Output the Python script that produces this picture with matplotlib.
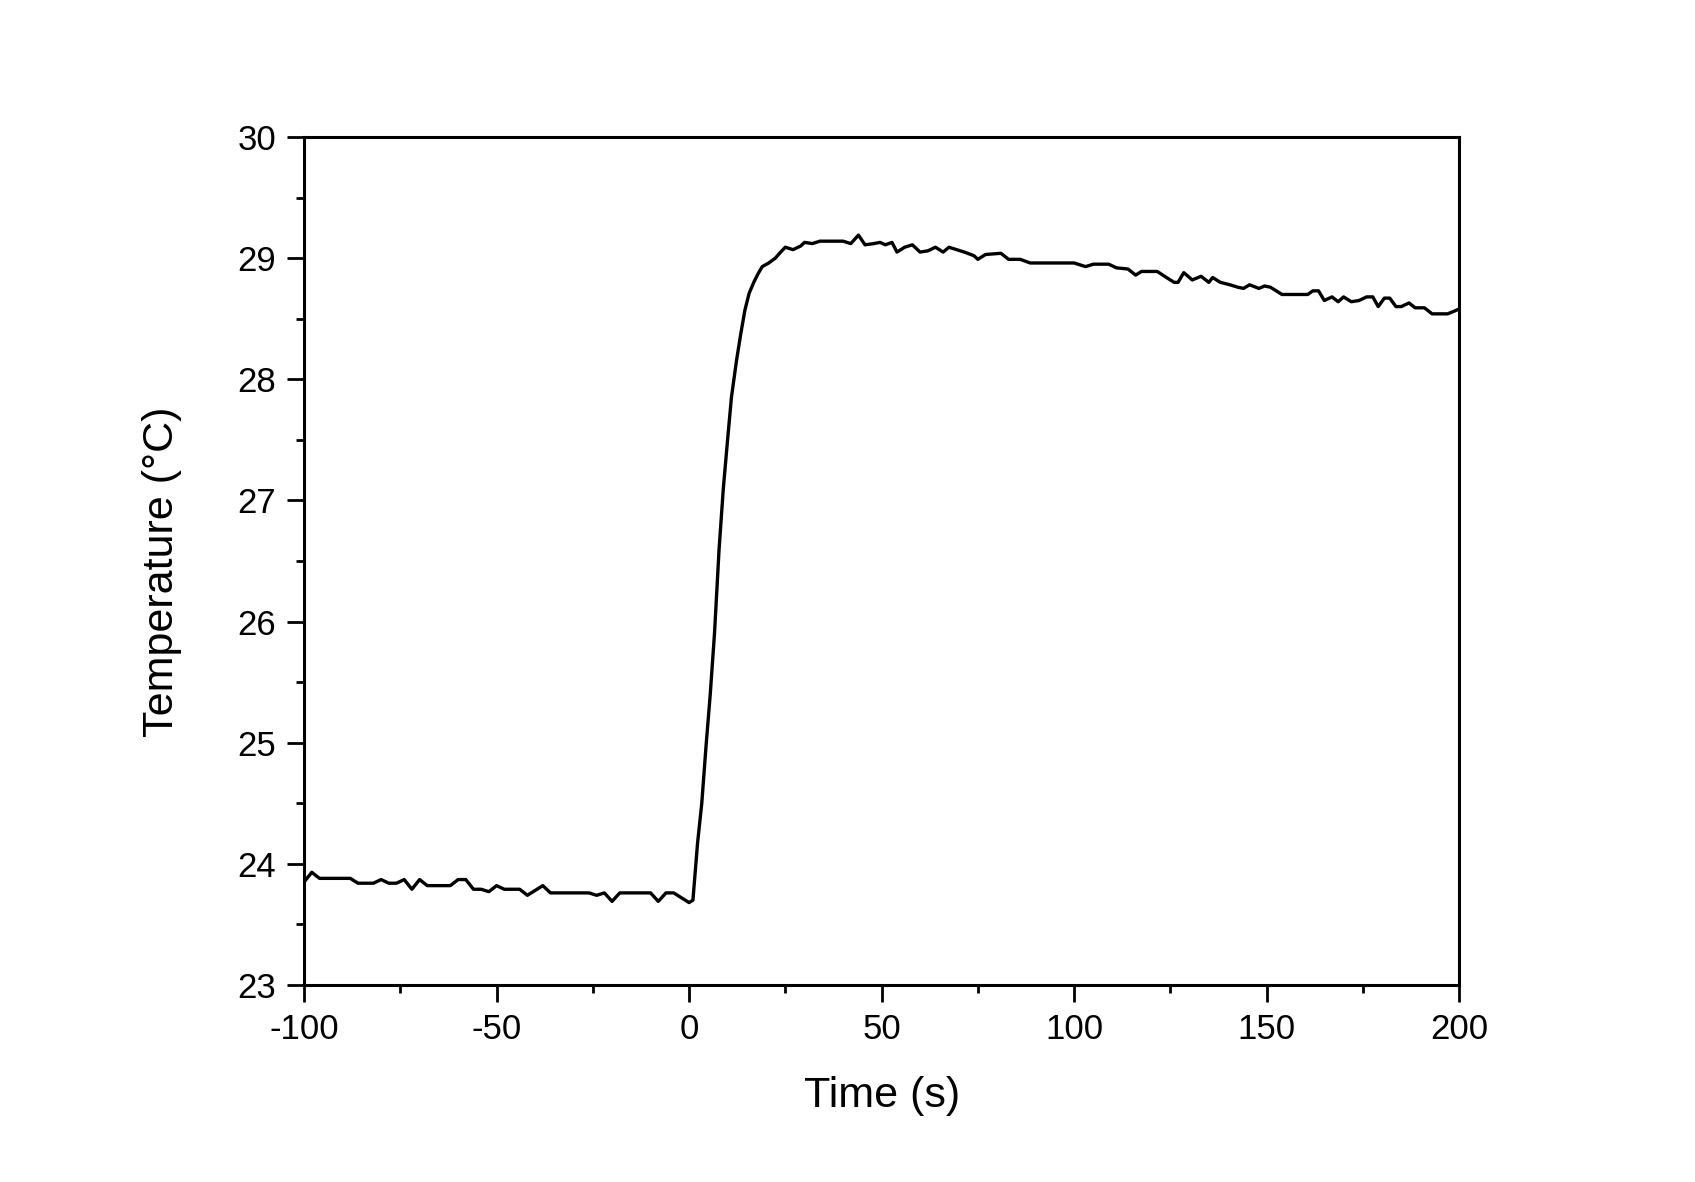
import matplotlib
matplotlib.use("Agg")
import matplotlib.pyplot as plt
from matplotlib.ticker import MultipleLocator

plt.rcParams['font.family'] = ['Liberation Sans', 'DejaVu Sans']
plt.rcParams['axes.unicode_minus'] = False

time_s = [-100, -98, -96, -92, -88, -86, -82, -80, -78, -76, -74, -72, -70, -68, -64, -62,
          -60, -58, -56, -54, -52, -50, -48, -46, -44, -42, -40, -38, -36, -34, -32, -30,
          -28, -26, -24, -22, -20, -18, -16, -14, -12, -10, -8, -6, -4, -2, 0, 1,
          2.2, 3.3, 4.4, 5.5, 6.6, 7.8, 8.9, 10, 11, 12.3, 13.4, 14.5, 15.6, 16.8, 17.9, 19,
          20.7, 22.4, 23.8, 25, 27, 29, 30, 32, 34, 36, 38, 40, 42, 44, 45.7, 48,
          49.6, 51, 52.7, 54, 56, 58, 60, 62, 64, 66, 67.5, 69.5, 71.5, 74, 75, 77,
          81, 83, 86, 88.6, 92, 96, 100, 103, 105, 109, 111, 114, 116, 117.5, 121.6, 124,
          126, 127, 128.5, 130.7, 133, 135, 136, 138, 140.5, 142.5, 144, 145.6, 148, 149.5, 151, 154,
          157, 160.7, 162, 163.5, 165, 167, 168.6, 170, 172, 174, 176, 177.6, 179, 180.6, 182, 183.6,
          185, 187, 188.6, 191, 193, 195, 197, 198.6, 200]
temperature = [23.85, 23.93, 23.88, 23.88, 23.88, 23.84, 23.84, 23.87, 23.84, 23.84, 23.87, 23.79, 23.87, 23.82, 23.82, 23.82,
               23.87, 23.87, 23.79, 23.79, 23.77, 23.82, 23.79, 23.79, 23.79, 23.74, 23.78, 23.82, 23.76, 23.76, 23.76, 23.76,
               23.76, 23.76, 23.74, 23.76, 23.69, 23.76, 23.76, 23.76, 23.76, 23.76, 23.69, 23.76, 23.76, 23.72, 23.68, 23.70,
               24.17, 24.50, 24.97, 25.40, 25.90, 26.60, 27.10, 27.50, 27.85, 28.15, 28.37, 28.57, 28.71, 28.80, 28.87, 28.93,
               28.96, 29.00, 29.05, 29.09, 29.07, 29.10, 29.13, 29.12, 29.14, 29.14, 29.14, 29.14, 29.12, 29.19, 29.11, 29.12,
               29.13, 29.11, 29.13, 29.05, 29.09, 29.11, 29.05, 29.06, 29.09, 29.05, 29.09, 29.07, 29.05, 29.02, 28.99, 29.03,
               29.04, 28.99, 28.99, 28.96, 28.96, 28.96, 28.96, 28.93, 28.95, 28.95, 28.92, 28.91, 28.86, 28.89, 28.89, 28.84,
               28.80, 28.80, 28.88, 28.82, 28.85, 28.80, 28.84, 28.80, 28.78, 28.76, 28.75, 28.78, 28.75, 28.77, 28.76, 28.70,
               28.70, 28.70, 28.73, 28.73, 28.65, 28.68, 28.64, 28.68, 28.64, 28.65, 28.68, 28.68, 28.60, 28.67, 28.67, 28.60,
               28.60, 28.63, 28.59, 28.59, 28.54, 28.54, 28.54, 28.56, 28.58]

xticks = [-100, -50, 0, 50, 100, 150, 200]
yticks = [23, 24, 25, 26, 27, 28, 29, 30]

fig = plt.figure(figsize=(16.95, 11.82), dpi=100)
ax = fig.add_axes([0.1794, 0.1667, 0.6814, 0.7174])
ax.plot(time_s, temperature, color='black', linewidth=2.4)

ax.set_xlim(-100, 200)
ax.set_ylim(23, 30)
ax.set_xticks(xticks)
ax.set_yticks(yticks)
ax.xaxis.set_minor_locator(MultipleLocator(25))
ax.yaxis.set_minor_locator(MultipleLocator(0.5))
ax.tick_params(which='major', direction='out', length=12, width=2, labelsize=25, pad=8,
               top=False, right=False)
ax.tick_params(which='minor', direction='out', length=6, width=2, top=False, right=False)
for s in ax.spines.values():
    s.set_linewidth(2.2)

ax.set_xlabel('Time (s)', fontsize=31, labelpad=22)
ax.set_ylabel('Temperature (°C)', fontsize=31)
ax.yaxis.set_label_coords(-0.106, 0.487)

fig.savefig('out.png', dpi=100, facecolor='white')
